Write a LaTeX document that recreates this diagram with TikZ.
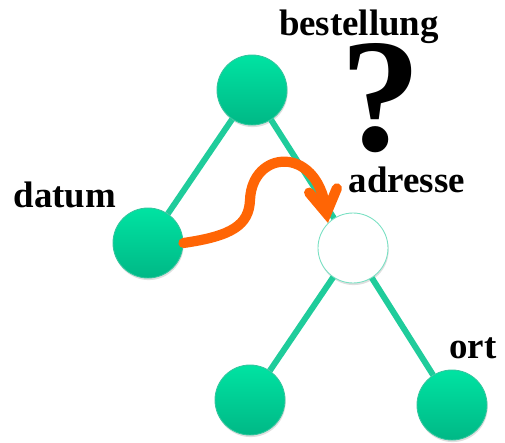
\documentclass[tikz,border=0pt]{standalone}
\usepackage{fontspec}
\setmainfont{Liberation Serif}
\usetikzlibrary{arrows.meta,shadows}

\definecolor{knottop}{HTML}{00E3A2}
\definecolor{knotbot}{HTML}{00B886}
\definecolor{kantegruen}{HTML}{1FCC9B}
\definecolor{pfeilorange}{HTML}{FF6505}

\tikzset{
  knot/.style={circle, minimum size=1.4cm, inner sep=0pt,
    top color=knottop, bottom color=knotbot, draw=knotbot!80, line width=0.5pt,
    drop shadow={shadow xshift=0.4pt, shadow yshift=-1.2pt, opacity=0.25}},
  leer/.style={knot, top color=white, bottom color=white, draw=kantegruen!60},
  kante/.style={draw=kantegruen, line width=3.4pt},
  wort/.style={font=\fontsize{21}{25}\selectfont\bfseries, anchor=base, inner sep=0pt},
}

\begin{document}
\begin{tikzpicture}[x=0.02cm, y=-0.02cm]
\useasboundingbox (0,0) rectangle (505,443);
% Knoten
\node [knot] (bestellung) at (252,90) {};
\node [knot] (datum) at (148,243) {};
\node [leer] (adresse) at (353,248) {};
\node [knot] (links) at (250,400) {};
\node [knot] (ort) at (452,405) {};
% Kanten
\draw [kante] (bestellung) -- (datum);
\draw [kante] (bestellung) -- (adresse);
\draw [kante] (adresse) -- (links);
\draw [kante] (adresse) -- (ort);
% Beschriftungen
\node [wort] (tbestellung) at (359,35) {bestellung};
\node [wort] (tdatum) at (65,207) {datum};
\node [wort] (tadresse) at (407,192) {adresse};
\node [wort] (tort) at (473,358) {ort};
\node [anchor=base, inner sep=0pt, font=\fontsize{92}{92}\selectfont\bfseries] (frage) at (381,150) {?};
% Pfeil
\coordinate (knick) at (250,200);
\draw [pfeilorange, line width=5.8pt, line cap=round,
  -{Straight Barb[length=0.46cm, width=0.56cm, line cap=round]}]
  (datum.east) .. controls (232,236) and (249,225) .. (knick)
  .. controls (252,150) and (316,145) .. (adresse.north west);
\end{tikzpicture}
\end{document}
